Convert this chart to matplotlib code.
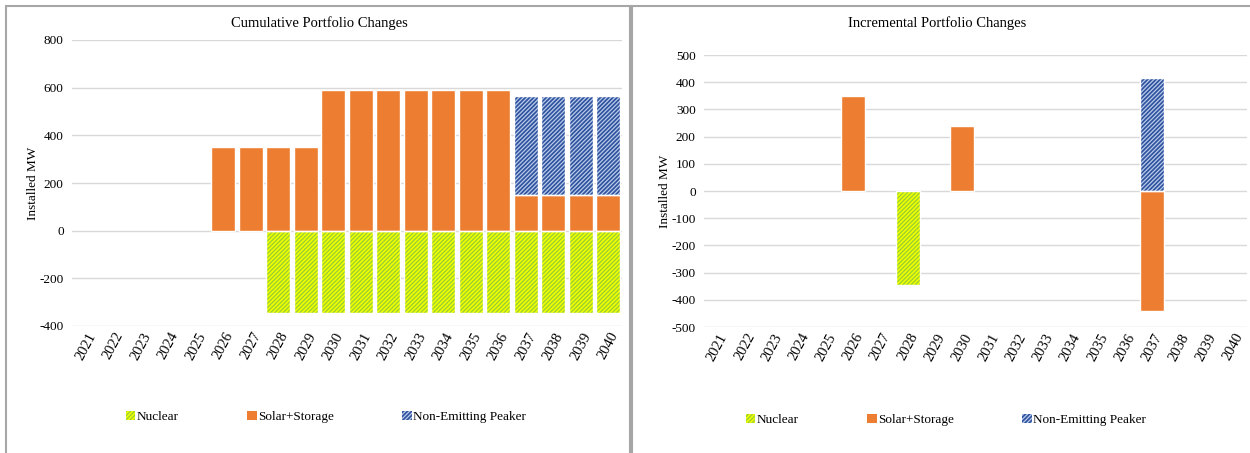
import numpy as np
import matplotlib.pyplot as plt
from matplotlib.patches import Rectangle

plt.rcParams['font.family'] = ['Liberation Serif', 'DejaVu Serif']
plt.rcParams['hatch.linewidth'] = 0.9
plt.rcParams['axes.unicode_minus'] = False

years = [str(y) for y in range(2021, 2041)]

# cumulative portfolio changes (MW)
cum_nuclear = [0, 0, 0, 0, 0, 0, 0, -345, -345, -345, -345, -345, -345, -345, -345, -345, -345, -345, -345, -345]
cum_solar = [0, 0, 0, 0, 0, 350, 350, 350, 350, 590, 590, 590, 590, 590, 590, 590, 150, 150, 150, 150]
cum_peaker = [0, 0, 0, 0, 0, 0, 0, 0, 0, 0, 0, 0, 0, 0, 0, 0, 413, 413, 413, 413]

# incremental portfolio changes (MW)
inc_nuclear = [0, 0, 0, 0, 0, 0, 0, -345, 0, 0, 0, 0, 0, 0, 0, 0, 0, 0, 0, 0]
inc_solar = [0, 0, 0, 0, 0, 350, 0, 0, 0, 240, 0, 0, 0, 0, 0, 0, -440, 0, 0, 0]
inc_peaker = [0, 0, 0, 0, 0, 0, 0, 0, 0, 0, 0, 0, 0, 0, 0, 0, 415, 0, 0, 0]

orange = '#ED7D31'
nuc_face, nuc_hatch = '#EEFF00', '#9ACD32'
peak_face, peak_hatch = '#2F529E', '#B9CBEA'

fig = plt.figure(figsize=(12.5, 4.53), dpi=100)

# panel frames
fig.patches.append(Rectangle((6/1250, -0.05), (630-6)/1250, 1.05 - 6/453, transform=fig.transFigure,
                             fill=False, edgecolor='#A6A6A6', lw=1.5))
fig.patches.append(Rectangle((632/1250, -0.05), 0.6, 1.05 - 6/453, transform=fig.transFigure,
                             fill=False, edgecolor='#A6A6A6', lw=1.5))


def draw(ax, nuc, sol, peak, ylim, step, title, pad):
    x = np.arange(len(years))
    w = 0.88
    nuc = np.array(nuc, float)
    sol = np.array(sol, float)
    peak = np.array(peak, float)
    pos_base = np.zeros(len(x))
    neg_base = np.zeros(len(x))
    handles = []
    for vals, face, hatch, hcol, lab in [(nuc, nuc_face, '////////', nuc_hatch, 'Nuclear'),
                                          (sol, orange, None, None, 'Solar+Storage'),
                                          (peak, peak_face, '////////', peak_hatch, 'Non-Emitting Peaker')]:
        base = np.where(vals >= 0, pos_base, neg_base)
        nz = vals != 0
        if hatch:
            h = ax.bar(x[nz], vals[nz], w, bottom=base[nz], color=face, hatch=hatch, edgecolor=hcol,
                       lw=0, label=lab, zorder=2)
        else:
            h = ax.bar(x[nz], vals[nz], w, bottom=base[nz], color=face, edgecolor='none', lw=0,
                       label=lab, zorder=2)
        ax.bar(x[nz], vals[nz], w, bottom=base[nz], facecolor='none', edgecolor='white', lw=1.0, zorder=3)
        handles.append(h)
        pos_base = pos_base + np.where(vals > 0, vals, 0)
        neg_base = neg_base + np.where(vals < 0, vals, 0)

    ax.set_xlim(-0.5, len(x) - 0.5)
    ax.set_ylim(*ylim)
    ax.set_yticks(np.arange(ylim[0], ylim[1] + 1, step))
    ax.yaxis.grid(True, color='#D9D9D9', lw=1)
    ax.set_axisbelow(True)
    for s in ax.spines.values():
        s.set_visible(False)
    ax.tick_params(length=0, labelsize=9.5, pad=6)
    ax.set_xticks(x)
    ax.set_xticklabels(years, rotation=62, ha='center', va='top', fontsize=10.5)
    ax.tick_params(axis='x', pad=3)
    ax.set_ylabel('Installed MW', fontsize=9.5, labelpad=0)
    ax.set_title(title, fontsize=10.5, pad=pad)
    return handles


ax1 = fig.add_axes([72/1250, 1 - 326/453, 550/1250, 286/453])
h1 = draw(ax1, cum_nuclear, cum_solar, cum_peaker, (-400, 800), 200, 'Cumulative Portfolio Changes', 9)
ax1.title.set_x(0.45)
fig.legend(h1, [h.get_label() for h in h1], loc='center', bbox_to_anchor=(326/1250, 1 - 417/453),
           ncol=3, frameon=False, fontsize=9.5, handlelength=0.7, handleheight=0.7,
           handletextpad=0.1, columnspacing=5.2)

ax2 = fig.add_axes([704/1250, 1 - 327/453, 543/1250, 272/453])
h2 = draw(ax2, inc_nuclear, inc_solar, inc_peaker, (-500, 500), 100, 'Incremental Portfolio Changes', 20)
ax2.title.set_x(0.43)
fig.legend(h2, [h.get_label() for h in h2], loc='center', bbox_to_anchor=(946/1250, 1 - 420/453),
           ncol=3, frameon=False, fontsize=9.5, handlelength=0.7, handleheight=0.7,
           handletextpad=0.1, columnspacing=5.2)

fig.savefig('out.png', dpi=100)
